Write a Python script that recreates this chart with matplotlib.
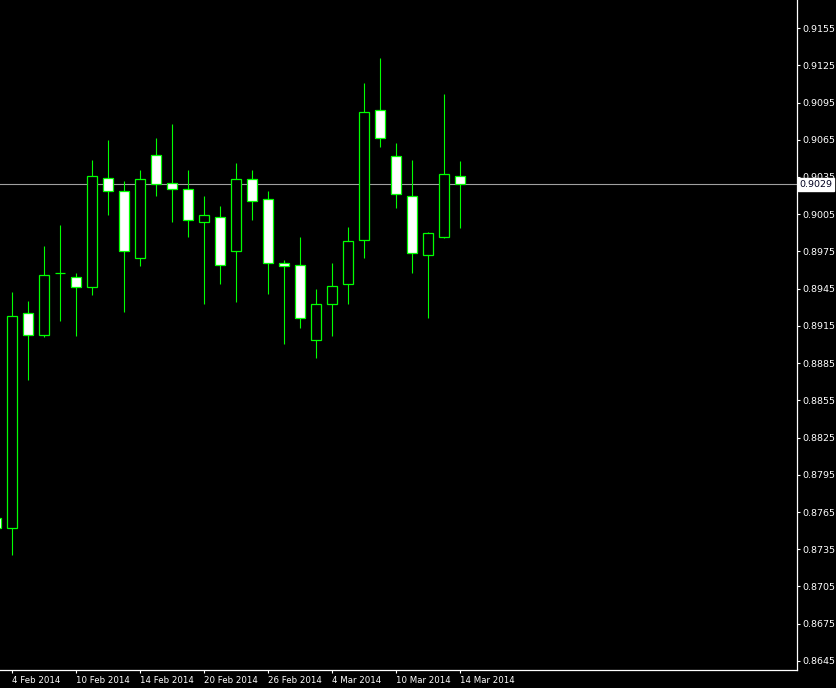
import matplotlib
matplotlib.use("Agg")
import matplotlib.pyplot as plt
from matplotlib.patches import Rectangle
import matplotlib.transforms as mtransforms

# daily candles, 3 Feb 2014 .. 14 Mar 2014
dates = ["3 Feb", "4 Feb", "5 Feb", "6 Feb", "7 Feb",
         "10 Feb", "11 Feb", "12 Feb", "13 Feb", "14 Feb",
         "17 Feb", "18 Feb", "19 Feb", "20 Feb", "21 Feb",
         "24 Feb", "25 Feb", "26 Feb", "27 Feb", "28 Feb",
         "3 Mar", "4 Mar", "5 Mar", "6 Mar", "7 Mar",
         "10 Mar", "11 Mar", "12 Mar", "13 Mar", "14 Mar"]
opens = [0.8760, 0.8752, 0.8925, 0.8908, 0.8958,
         0.8954, 0.8946, 0.9034, 0.9024, 0.8970,
         0.9053, 0.9030, 0.9025, 0.8999, 0.9003,
         0.8975, 0.9033, 0.9017, 0.8966, 0.8964,
         0.8904, 0.8933, 0.8949, 0.8984, 0.9089,
         0.9052, 0.9020, 0.8972, 0.8987, 0.9036]
highs = [0.8763, 0.8942, 0.8935, 0.8979, 0.8996,
         0.8958, 0.9049, 0.9065, 0.9032, 0.9041,
         0.9066, 0.9078, 0.9041, 0.9020, 0.9012,
         0.9046, 0.9041, 0.9024, 0.8968, 0.8987,
         0.8945, 0.8966, 0.8995, 0.9111, 0.9131,
         0.9062, 0.9049, 0.8991, 0.9102, 0.9048]
lows = [0.8749, 0.8730, 0.8871, 0.8906, 0.8919,
        0.8907, 0.8940, 0.9004, 0.8926, 0.8963,
        0.9020, 0.8999, 0.8987, 0.8933, 0.8949,
        0.8934, 0.9000, 0.8941, 0.8900, 0.8913,
        0.8889, 0.8907, 0.8933, 0.8970, 0.9059,
        0.9010, 0.8958, 0.8921, 0.8986, 0.8994]
closes = [0.8752, 0.8923, 0.8908, 0.8956, 0.8958,
          0.8946, 0.9036, 0.9024, 0.8975, 0.9033,
          0.9029, 0.9025, 0.9000, 0.9004, 0.8964,
          0.9033, 0.9016, 0.8966, 0.8963, 0.8921,
          0.8933, 0.8947, 0.8983, 0.9087, 0.9066,
          0.9021, 0.8974, 0.8990, 0.9037, 0.9029]

date_ticks = ["4 Feb", "10 Feb", "14 Feb", "20 Feb", "26 Feb", "4 Mar", "10 Mar", "14 Mar"]
date_labels = ["4 Feb 2014", "10 Feb 2014", "14 Feb 2014", "20 Feb 2014",
               "26 Feb 2014", "4 Mar 2014", "10 Mar 2014", "14 Mar 2014"]
price_ticks = [0.9155, 0.9125, 0.9095, 0.9065, 0.9035, 0.9005, 0.8975, 0.8945, 0.8915,
               0.8885, 0.8855, 0.8825, 0.8795, 0.8765, 0.8735, 0.8705, 0.8675, 0.8645]
last_price = 0.9029

GREEN = "#00ff00"

fig = plt.figure(figsize=(8.37, 6.88), dpi=100)
fig.patch.set_facecolor("black")
ax = fig.add_axes([0, 18 / 688, 797 / 837, 670 / 688])
ax.set_facecolor("black")

# candles: black body = up day, white body = down day
body_w = 0.6
for i in range(len(dates)):
    o, h, l, c = opens[i], highs[i], lows[i], closes[i]
    ax.vlines(i, l, h, color=GREEN, lw=0.8, zorder=2)
    face = "black" if c >= o else "white"
    ax.add_patch(Rectangle((i - body_w / 2, min(o, c)), body_w, abs(c - o),
                           facecolor=face, edgecolor=GREEN, lw=0.9, zorder=3))

# current price line + label
ax.axhline(last_price, color="#a0a0a0", lw=0.8, zorder=1)
trans = mtransforms.blended_transform_factory(ax.transAxes, ax.transData)
ax.text(1.003, last_price, f"{last_price:.4f}", transform=trans, ha="left", va="center",
        fontsize=6.8, color="#000020", zorder=10, clip_on=False,
        bbox=dict(boxstyle="square,pad=0.2", facecolor="white", edgecolor="white"))

ax.set_xlim(0.25, 0.25 + 797 / 16)
ax.set_ylim(0.86377, 0.91776)

ax.set_xticks([dates.index(d) for d in date_ticks])
ax.set_xticklabels(date_labels)
for lab in ax.get_xticklabels():
    lab.set_horizontalalignment("left")
ax.set_yticks(price_ticks)
ax.set_yticklabels([f"{p:.4f}" for p in price_ticks])
ax.yaxis.tick_right()

ax.tick_params(axis="x", colors="white", labelsize=6.2, length=2.5, width=0.8, pad=1.5)
ax.tick_params(axis="y", colors="white", labelsize=6.8, length=2.5, width=0.8, pad=1.5)

for side in ["top", "left"]:
    ax.spines[side].set_visible(False)
for side in ["right", "bottom"]:
    ax.spines[side].set_color("white")
    ax.spines[side].set_linewidth(0.9)

fig.savefig("out.png", dpi=100, facecolor="black")
